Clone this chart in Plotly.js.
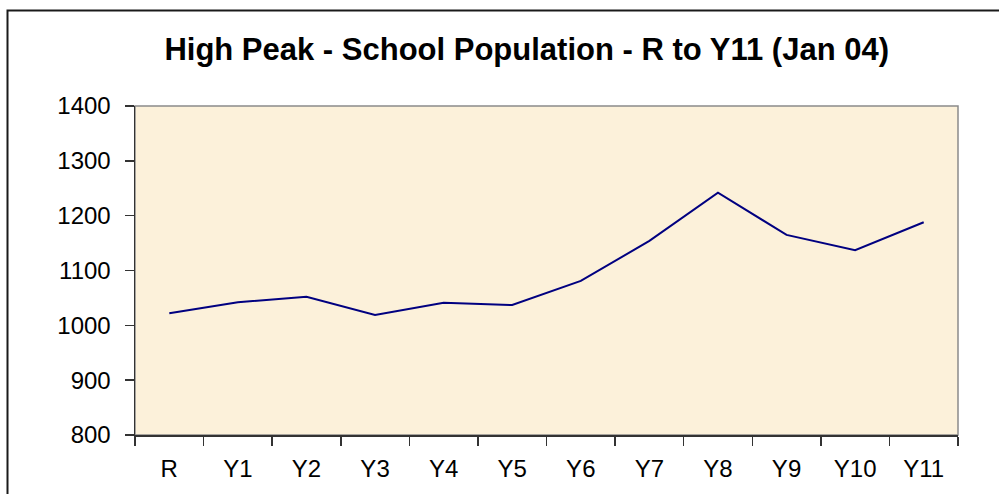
<!DOCTYPE html>
<html>
<head>
<meta charset="utf-8">
<script src="https://cdn.plot.ly/plotly-3.0.1.min.js"></script>
<style>
html,body{margin:0;padding:0;background:#fff;}
#chart{width:999px;height:494px;}
</style>
</head>
<body>
<div id="chart"></div>
<script>
const categories = ['R','Y1','Y2','Y3','Y4','Y5','Y6','Y7','Y8','Y9','Y10','Y11'];
const population = [1022, 1042, 1052, 1019, 1041, 1037, 1081, 1154, 1242, 1165, 1137, 1188];
const yTicks = [800, 900, 1000, 1100, 1200, 1300, 1400];
const chartTitle = 'High Peak - School Population - R to Y11 (Jan 04)';

const W = 999, H = 494;
const m = {l:135, r:41, t:106, b:59};
const pw = W - m.l - m.r, ph = H - m.t - m.b;
const px = x => (x - m.l) / pw;
const py = y => (H - m.b - y) / ph;

const trace = {
  x: categories,
  y: population,
  type: 'scatter',
  mode: 'lines',
  line: {color: '#000080', width: 2},
  hoverinfo: 'x+y'
};

const layout = {
  width: W, height: H,
  margin: m,
  paper_bgcolor: '#ffffff',
  plot_bgcolor: '#FCF1DA',
  font: {family: '"Liberation Sans", Arial, sans-serif', color: '#000', size: 24},
  showlegend: false,
  title: {
    text: '<b>' + chartTitle + '</b>',
    font: {family: '"Liberation Sans", Arial, sans-serif', size: 31, color: '#000'},
    x: 526.7 / W, xref: 'container', xanchor: 'center',
    y: 1 - 49 / H, yref: 'container', yanchor: 'middle'
  },
  xaxis: {
    type: 'category',
    range: [-0.5, categories.length - 0.5],
    tickson: 'boundaries',
    ticks: 'outside', ticklen: 9, tickwidth: 1.5, tickcolor: '#333',
    showline: true, linecolor: '#333', linewidth: 1.5,
    showgrid: false, zeroline: false,
    ticklabelstandoff: 12,
    tickfont: {size: 24},
    fixedrange: true
  },
  yaxis: {
    range: [800, 1400],
    tickvals: yTicks,
    ticktext: yTicks.map(String),
    ticks: 'outside', ticklen: 9, tickwidth: 1.5, tickcolor: '#333',
    showline: true, linecolor: '#333', linewidth: 1.5,
    showgrid: false, zeroline: false,
    ticklabelstandoff: 9,
    tickfont: {size: 24},
    fixedrange: true
  },
  shapes: [
    {type: 'rect', xref: 'paper', yref: 'paper', x0: 0, x1: 1, y0: 0, y1: 1,
     line: {color: '#8a8a8a', width: 1.5}, layer: 'below'},
    {type: 'rect', xref: 'paper', yref: 'paper',
     x0: px(7.5), x1: px(1010), y0: py(505), y1: py(10.5),
     line: {color: '#1a1a1a', width: 2}, layer: 'above'}
  ]
};

Plotly.newPlot('chart', [trace], layout, {staticPlot: true, displayModeBar: false});
</script>
</body>
</html>
